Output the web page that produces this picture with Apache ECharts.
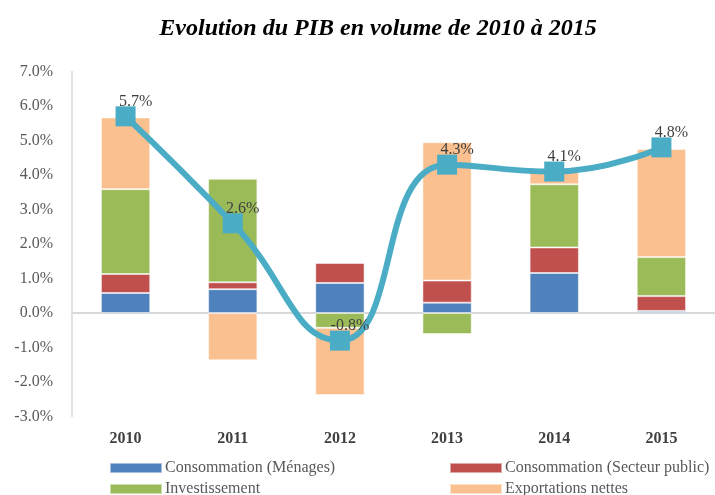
<!DOCTYPE html>
<html>
<head>
<meta charset="utf-8">
<script src="https://cdn.jsdelivr.net/npm/echarts@6/dist/echarts.min.js"></script>
<style>
  html, body { margin: 0; padding: 0; background: #fff; }
  #chart { width: 715px; height: 495px; }
</style>
</head>
<body>
<div id="chart"></div>
<script>
// données (points de %)
let annees = ['2010', '2011', '2012', '2013', '2014', '2015'];
let menages = [0.58, 0.69, 0.87, 0.30, 1.16, 0.06];
let secteurPublic = [0.55, 0.20, 0.58, 0.64, 0.74, 0.43];
let investissement = [2.46, 3.00, -0.43, -0.61, 1.83, 1.13];
let exportations = [2.08, -1.37, -1.95, 4.01, 0.37, 3.13];
let pib = [5.7, 2.6, -0.8, 4.3, 4.1, 4.8];

let serif = '"Liberation Serif", "DejaVu Serif", serif';

let chart = echarts.init(document.getElementById('chart'));

function barSerie(name, data, color) {
    return {
        name: name,
        type: 'bar',
        stack: 'pib',
        data: data,
        barWidth: '46%',
        itemStyle: { color: color, borderColor: 'rgba(255,255,255,0.5)', borderWidth: 1 },
        emphasis: { disabled: true }
    };
}

// une légende par entrée, placée en grille 2 x 2
function legende(nom, x, y) {
    return {
        left: x, top: y,
        itemWidth: 52, itemHeight: 10, icon: 'rect',
        data: [nom],
        textStyle: { fontFamily: serif, fontSize: 16, color: '#595959', padding: [0, 0, 0, -2] }
    };
}

let option = {
    animation: false,
    title: {
        text: 'Evolution du PIB en volume de 2010 à 2015',
        left: 373,
        textAlign: 'center',
        top: 12,
        textStyle: { fontFamily: serif, fontSize: 24, fontWeight: 'bold', fontStyle: 'italic', color: '#000' }
    },
    legend: [
        legende('Consommation (Ménages)', 104, 455),
        legende('Consommation (Secteur public)', 444, 455),
        legende('Investissement', 104, 476),
        legende('Exportations nettes', 444, 476)
    ],
    grid: { left: 72, top: 71.5, width: 657, height: 345 },
    xAxis: {
        type: 'category',
        data: annees,
        axisLine: { onZero: true, lineStyle: { color: '#d9d9d9', width: 2 } },
        axisTick: { show: false },
        axisLabel: {
            fontFamily: serif, fontSize: 16, fontWeight: 'bold', color: '#404040',
            interval: 0, margin: 14
        }
    },
    yAxis: {
        type: 'value',
        min: -3, max: 7, interval: 1,
        axisLine: { show: true, lineStyle: { color: '#d9d9d9', width: 1.5 } },
        axisTick: { show: false },
        splitLine: { show: false },
        axisLabel: {
            fontFamily: serif, fontSize: 16, color: '#595959', margin: 19,
            formatter: function (v) { return v.toFixed(1) + '%'; }
        }
    },
    series: [
        barSerie('Consommation (Ménages)', menages, '#4F81BD'),
        barSerie('Consommation (Secteur public)', secteurPublic, '#C0504D'),
        barSerie('Investissement', investissement, '#9BBB59'),
        barSerie('Exportations nettes', exportations, '#FAC090'),
        {
            name: 'PIB',
            type: 'line',
            data: pib,
            smooth: 0.5,
            symbol: 'rect',
            symbolSize: 20,
            lineStyle: { color: '#4BACC6', width: 6 },
            itemStyle: { color: '#4BACC6' },
            label: {
                show: true,
                position: 'top',
                distance: 0,
                offset: [10, 3],
                fontFamily: serif,
                fontSize: 16,
                color: '#404040',
                formatter: function (p) { return p.value.toFixed(1) + '%'; }
            },
            emphasis: { disabled: true },
            z: 5
        }
    ]
};
chart.setOption(option);
</script>
</body>
</html>
